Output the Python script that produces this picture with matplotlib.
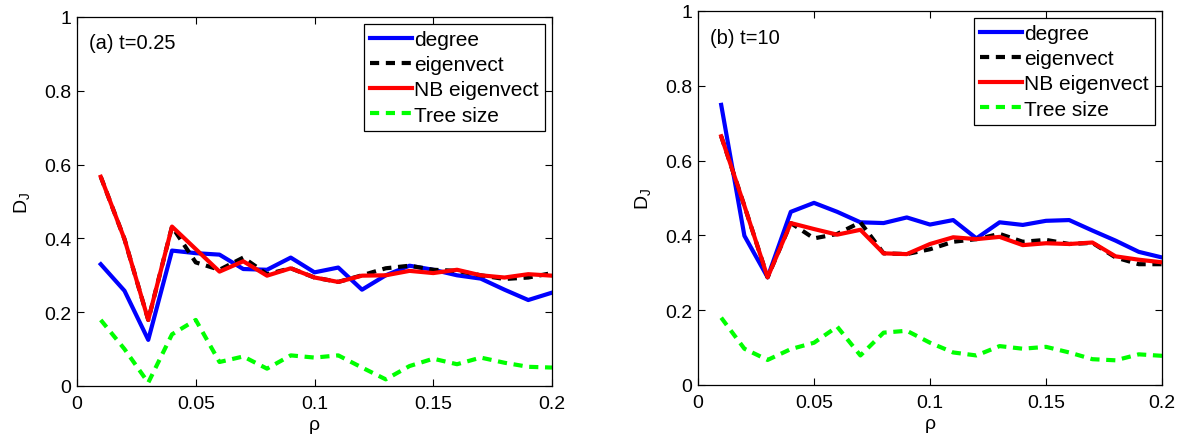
import matplotlib
matplotlib.use("Agg")
import matplotlib.pyplot as plt
import numpy as np

plt.rcParams['font.family'] = ['Liberation Sans', 'DejaVu Sans']

rho = [0.01, 0.02, 0.03, 0.04, 0.05, 0.06, 0.07, 0.08, 0.09, 0.10,
       0.11, 0.12, 0.13, 0.14, 0.15, 0.16, 0.17, 0.18, 0.19, 0.20]

# Panel (a) t=0.25
a_degree = [0.330, 0.258, 0.125, 0.367, 0.360, 0.356, 0.317, 0.315, 0.348, 0.308,
            0.321, 0.261, 0.300, 0.326, 0.315, 0.300, 0.291, 0.261, 0.233, 0.253]
a_eig = [0.567, 0.398, 0.179, 0.432, 0.335, 0.315, 0.348, 0.303, 0.319, 0.294,
         0.282, 0.300, 0.319, 0.326, 0.315, 0.312, 0.300, 0.290, 0.294, 0.306]
a_nb = [0.567, 0.398, 0.179, 0.432, 0.371, 0.310, 0.338, 0.299, 0.319, 0.294,
        0.282, 0.299, 0.300, 0.312, 0.306, 0.315, 0.300, 0.294, 0.303, 0.299]
a_tree = [0.179, 0.100, 0.009, 0.140, 0.179, 0.065, 0.080, 0.047, 0.083, 0.077,
          0.083, 0.050, 0.018, 0.054, 0.074, 0.059, 0.077, 0.063, 0.052, 0.050]

# Panel (b) t=10
b_degree = [0.749, 0.399, 0.288, 0.463, 0.487, 0.463, 0.435, 0.433, 0.448, 0.429,
            0.441, 0.392, 0.435, 0.428, 0.439, 0.441, 0.413, 0.386, 0.356, 0.341]
b_eig = [0.665, 0.479, 0.288, 0.433, 0.392, 0.404, 0.435, 0.352, 0.350, 0.363,
         0.383, 0.390, 0.404, 0.383, 0.388, 0.377, 0.380, 0.341, 0.323, 0.323]
b_nb = [0.665, 0.479, 0.288, 0.433, 0.417, 0.402, 0.415, 0.352, 0.350, 0.377,
        0.395, 0.390, 0.396, 0.374, 0.379, 0.377, 0.381, 0.344, 0.335, 0.328]
b_tree = [0.180, 0.097, 0.067, 0.096, 0.113, 0.156, 0.079, 0.140, 0.145, 0.113,
          0.087, 0.079, 0.104, 0.097, 0.102, 0.087, 0.069, 0.066, 0.082, 0.078]

labels = ["degree", "eigenvect", "NB eigenvect", "Tree size"]
panel_titles = ["(a) t=0.25", "(b) t=10"]

fig = plt.figure(figsize=(11.96, 4.35), dpi=100)
axA = fig.add_axes([77/1196, 48/435, 475/1196, 369/435])
axB = fig.add_axes([698/1196, 49/435, 464/1196, 374/435])

FS = 14
for ax, deg, eig, nb, tree, title in [
        (axA, a_degree, a_eig, a_nb, a_tree, panel_titles[0]),
        (axB, b_degree, b_eig, b_nb, b_tree, panel_titles[1])]:
    ax.plot(rho, deg, color='#0000ff', lw=3.0, label=labels[0])
    ax.plot(rho, eig, color='black', lw=3.0, ls=(0, (2.2, 1.6)), label=labels[1])
    ax.plot(rho, nb, color='#ff0000', lw=3.0, label=labels[2])
    ax.plot(rho, tree, color='#00ff00', lw=3.0, ls=(0, (2.2, 1.6)), label=labels[3])
    ax.set_xlim(0, 0.2)
    ax.set_ylim(0, 1)
    ax.set_xticks([0, 0.05, 0.1, 0.15, 0.2])
    ax.set_xticklabels(['0', '0.05', '0.1', '0.15', '0.2'])
    ax.set_yticks([0, 0.2, 0.4, 0.6, 0.8, 1])
    ax.set_yticklabels(['0', '0.2', '0.4', '0.6', '0.8', '1'])
    ax.tick_params(direction='in', top=True, right=True, labelsize=FS, length=5, width=0.8)
    ax.tick_params(axis='x', pad=6.5)
    ax.tick_params(axis='y', pad=4)
    for s in ax.spines.values():
        s.set_linewidth(0.9)
    ax.set_xlabel('ρ', fontsize=FS, labelpad=3)
    ax.set_ylabel(r'D$_\mathregular{J}$', fontsize=FS, labelpad=8)
    ax.text(0.025, 0.93, title, transform=ax.transAxes, fontsize=14.5, va='center', ha='left')
    leg = ax.legend(loc='upper right', bbox_to_anchor=(0.985, 0.982), fontsize=15,
                    frameon=True, fancybox=False, edgecolor='black', framealpha=1,
                    handlelength=2.0, handletextpad=0.1, borderpad=0.3, labelspacing=0.3,
                    borderaxespad=0.0)
    leg.get_frame().set_linewidth(0.9)

fig.savefig("out.png", dpi=100)
